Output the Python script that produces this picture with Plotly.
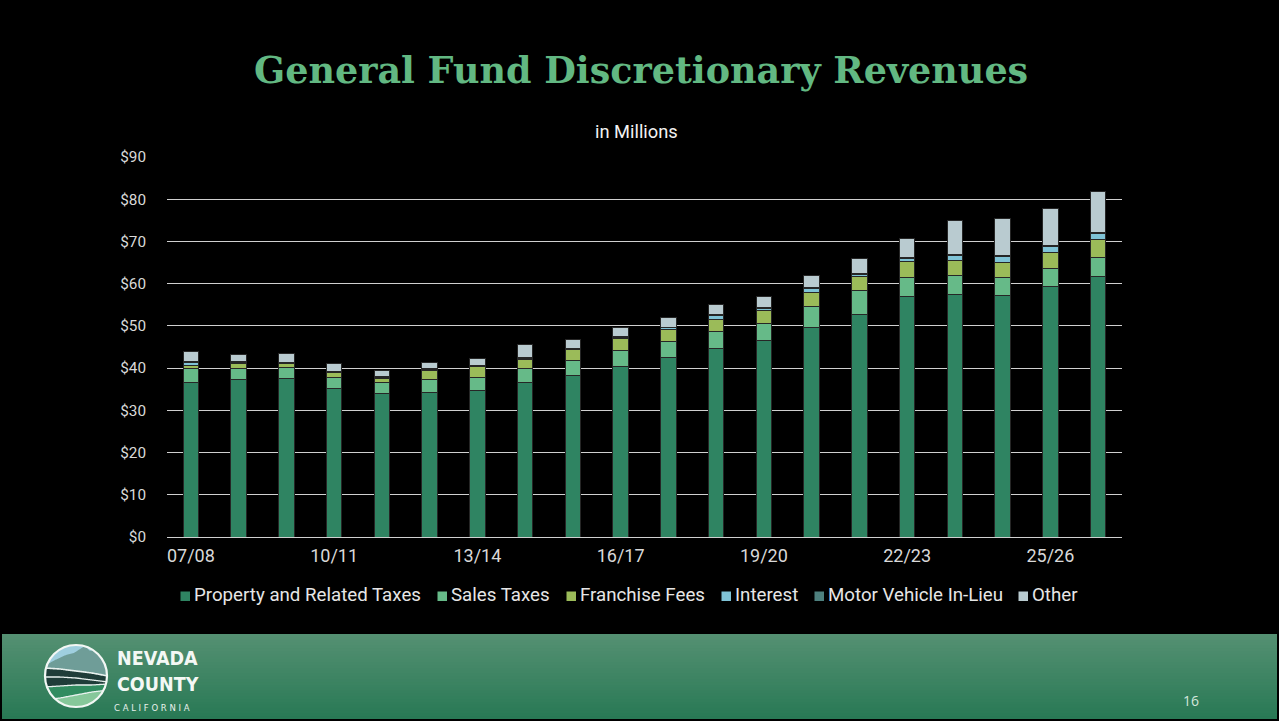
import plotly.graph_objects as go
import math

# ---------------- data ----------------
categories = ["07/08", "08/09", "09/10", "10/11", "11/12", "12/13", "13/14", "14/15", "15/16", "16/17",
              "17/18", "18/19", "19/20", "20/21", "21/22", "22/23", "23/24", "24/25", "25/26", "26/27"]
tick_labels = ["07/08", "10/11", "13/14", "16/17", "19/20", "22/23", "25/26"]

property_taxes = [36.5, 37.2, 37.6, 35.1, 33.9, 34.3, 34.6, 36.5, 38.3, 40.5,
                  42.4, 44.6, 46.5, 49.7, 52.8, 56.9, 57.4, 57.1, 59.3, 61.6]
sales_taxes = [3.3, 2.7, 2.6, 2.7, 2.7, 3.1, 3.2, 3.3, 3.5, 3.7,
               3.9, 4.1, 4.0, 4.9, 5.7, 4.6, 4.6, 4.4, 4.3, 4.6]
franchise_fees = [0.9, 1.1, 0.8, 1.1, 1.0, 2.1, 2.5, 2.3, 2.5, 2.7,
                  2.8, 2.9, 3.1, 3.4, 3.3, 3.7, 3.6, 3.6, 3.9, 4.3]
interest = [0.6, 0.4, 0.3, 0.2, 0.2, 0.2, 0.2, 0.2, 0.2, 0.4,
            0.5, 0.9, 0.6, 0.8, 0.4, 0.8, 1.1, 1.3, 1.3, 1.4]
motor_vehicle = [0.3, 0.1, 0.1, 0.2, 0.1, 0.1, 0.1, 0.1, 0.1, 0.3,
                 0.1, 0.2, 0.2, 0.3, 0.2, 0.2, 0.3, 0.3, 0.3, 0.3]
other = [2.3, 1.8, 2.1, 1.8, 1.6, 1.6, 1.6, 3.3, 2.1, 2.0,
         2.2, 2.4, 2.5, 2.8, 3.5, 4.5, 7.9, 8.7, 8.7, 9.6]

series_names = ["Property and Related Taxes", "Sales Taxes", "Franchise Fees",
                "Interest", "Motor Vehicle In-Lieu", "Other"]
series_values = [property_taxes, sales_taxes, franchise_fees, interest, motor_vehicle, other]
series_colors = ["#2f8462", "#66ba88", "#9bbb59", "#7fc3d6", "#4e807e", "#b9cbd0"]

# ---------------- geometry helpers ----------------
W_FIG, H_FIG = 1279, 721
L, R, T, B = 167, 1122, 157, 537  # plot area in pixels
PW, PH = R - L, B - T


def px(x):
    return (x - L) / PW


def py(y):
    return (B - y) / PH


fig = go.Figure()
for name, vals, col in zip(series_names, series_values, series_colors):
    fig.add_trace(go.Bar(
        x=categories, y=vals, name=name, showlegend=False,
        marker=dict(color=col, line=dict(color="#262626", width=1)),
    ))

shapes = []
annotations = []

# custom legend (tight spacing like the original)
legend_text_x = [194, 451, 580, 735, 828, 1032]
legend_y = 595
for name, col, tx in zip(series_names, series_colors, legend_text_x):
    shapes.append(dict(type="rect", xref="paper", yref="paper",
                       x0=px(tx - 13.5), x1=px(tx - 4), y0=py(legend_y + 6), y1=py(legend_y - 3.5),
                       fillcolor=col, line=dict(width=0)))
    annotations.append(dict(text=name, xref="paper", yref="paper",
                            x=px(tx - 2), y=py(legend_y), xanchor="left", yanchor="middle",
                            showarrow=False,
                            font=dict(family="Roboto", size=18.7, color="#e6e6e6")))

# footer band with vertical gradient
top_c = (84, 144, 114)
bot_c = (41, 121, 85)
y0f, y1f = 634, 719
n = 30
for i in range(n):
    t = i / (n - 1)
    c = tuple(int(round(top_c[k] + (bot_c[k] - top_c[k]) * t)) for k in range(3))
    ya = y0f + (y1f - y0f) * i / n
    shapes.append(dict(type="rect", xref="paper", yref="paper",
                       x0=px(2), x1=px(1277), y0=py(ya), y1=py(y1f),
                       fillcolor="rgb(%d,%d,%d)" % c, line=dict(width=0), layer="above"))

# logo
cx, cy, rr = 76, 676, 31


def circ_bounds(x):
    d = max(rr * rr - (x - cx) ** 2, 0)
    s = math.sqrt(d)
    return cy - s, cy + s


def interp(pts, x):
    for (xa, ya), (xb, yb) in zip(pts[:-1], pts[1:]):
        if xa <= x <= xb:
            return ya + (yb - ya) * (x - xa) / (xb - xa)
    return pts[0][1] if x < pts[0][0] else pts[-1][1]


def band(top_pts, bot_pts, color):
    steps = 60
    xs = [cx - rr + 2 * rr * i / steps for i in range(steps + 1)]
    tops, bots = [], []
    for x in xs:
        ct, cb = circ_bounds(x)
        t = ct if top_pts is None else min(max(interp(top_pts, x), ct), cb)
        b = cb if bot_pts is None else min(max(interp(bot_pts, x), ct), cb)
        if t > b:
            t = b
        tops.append((x, t))
        bots.append((x, b))
    pts = tops + bots[::-1]
    path = "M " + " L ".join("%.5f,%.5f" % (px(a), py(b)) for a, b in pts) + " Z"
    shapes.append(dict(type="path", xref="paper", yref="paper", path=path,
                       fillcolor=color, line=dict(width=0), layer="above"))


def stripe(pts_line, color, width):
    steps = 60
    xs = [cx - rr + 2 * rr * i / steps for i in range(steps + 1)]
    pts = []
    for x in xs:
        ct, cb = circ_bounds(x)
        y = interp(pts_line, x)
        if ct <= y <= cb:
            pts.append((x, y))
    if len(pts) > 1:
        path = "M " + " L ".join("%.5f,%.5f" % (px(a), py(b)) for a, b in pts)
        shapes.append(dict(type="path", xref="paper", yref="paper", path=path,
                           line=dict(color=color, width=width), layer="above"))


mount_top = [(44, 666), (55, 660), (66, 655), (74, 653), (80, 649), (85, 646), (90, 651),
             (95, 649), (101, 654), (108, 659)]
dark_top = [(44, 668), (60, 669), (76, 671), (92, 673), (108, 676)]
stripe2 = [(44, 677), (60, 677), (76, 678), (92, 680), (108, 682)]
dark_bot = [(44, 687), (60, 686), (76, 685), (92, 685), (108, 684)]
green_bot = [(44, 700), (60, 698), (76, 695), (92, 692), (108, 690)]

band(None, None, "#9fcfdf")
band(mount_top, dark_top, "#6f9d98")
band(dark_top, dark_bot, "#1f3d39")
band(dark_bot, green_bot, "#318c60")
band(green_bot, None, "#86c79a")
stripe(dark_top, "#e8f1ee", 1.6)
stripe(stripe2, "#e8f1ee", 1.3)
stripe(dark_bot, "#e8f1ee", 1.3)
stripe(green_bot, "#e8f1ee", 1.3)
shapes.append(dict(type="circle", xref="paper", yref="paper",
                   x0=px(cx - rr), x1=px(cx + rr), y0=py(cy - rr), y1=py(cy + rr),
                   line=dict(color="#f2f7f4", width=2.2), layer="above"))

logo_font = dict(family="DejaVu Sans Condensed, DejaVu Sans", size=19.5, color="#f4f8f5",
                 weight="bold")
annotations += [
    dict(text="General Fund Discretionary Revenues", xref="paper", yref="paper",
         x=px(641), y=py(70), xanchor="center", yanchor="middle", showarrow=False,
         font=dict(family="DejaVu Serif", size=36.5, color="#62b882", weight="bold")),
    dict(text="in Millions", xref="paper", yref="paper",
         x=px(636), y=py(131), xanchor="center", yanchor="middle", showarrow=False,
         font=dict(family="Roboto", size=18.3, color="#f2f2f2")),
    dict(text="NEVADA", xref="paper", yref="paper",
         x=px(115), y=py(658), xanchor="left", yanchor="middle", showarrow=False,
         font=logo_font),
    dict(text="COUNTY", xref="paper", yref="paper",
         x=px(115), y=py(684), xanchor="left", yanchor="middle", showarrow=False,
         font=logo_font),
    dict(text="C A L I F O R N I A", xref="paper", yref="paper",
         x=px(152), y=py(708), xanchor="center", yanchor="middle", showarrow=False,
         font=dict(family="DejaVu Sans", size=8.5, color="#e8f1ec")),
    dict(text="16", xref="paper", yref="paper",
         x=px(1191), y=py(700), xanchor="center", yanchor="middle", showarrow=False,
         font=dict(family="Open Sans", size=14, color="#d4e6dc")),
]

fig.update_layout(
    width=W_FIG, height=H_FIG,
    template="none",
    barmode="stack",
    bargap=0.68,
    paper_bgcolor="black",
    plot_bgcolor="black",
    showlegend=False,
    margin=dict(l=L, r=W_FIG - R, t=T, b=H_FIG - B, autoexpand=False),
    font=dict(family="Roboto", color="#d9d9d9"),
    xaxis=dict(
        type="category", categoryorder="array", categoryarray=categories,
        tickvals=tick_labels, ticktext=tick_labels,
        showgrid=False, showline=False, zeroline=False, ticks="",
        ticklabelstandoff=6,
        tickfont=dict(family="Roboto", size=18, color="#d9d9d9"),
        automargin=False,
    ),
    yaxis=dict(
        range=[0, 90], dtick=10, tickprefix="$",
        showgrid=True, gridcolor="#d0d0d0", gridwidth=1,
        zeroline=True, zerolinecolor="#d0d0d0", zerolinewidth=1,
        showline=False, ticks="", ticklabelstandoff=20,
        tickfont=dict(family="Roboto", size=15.3, color="#d9d9d9"),
        automargin=False,
    ),
    shapes=shapes,
    annotations=annotations,
)

fig.write_html("out.html")
